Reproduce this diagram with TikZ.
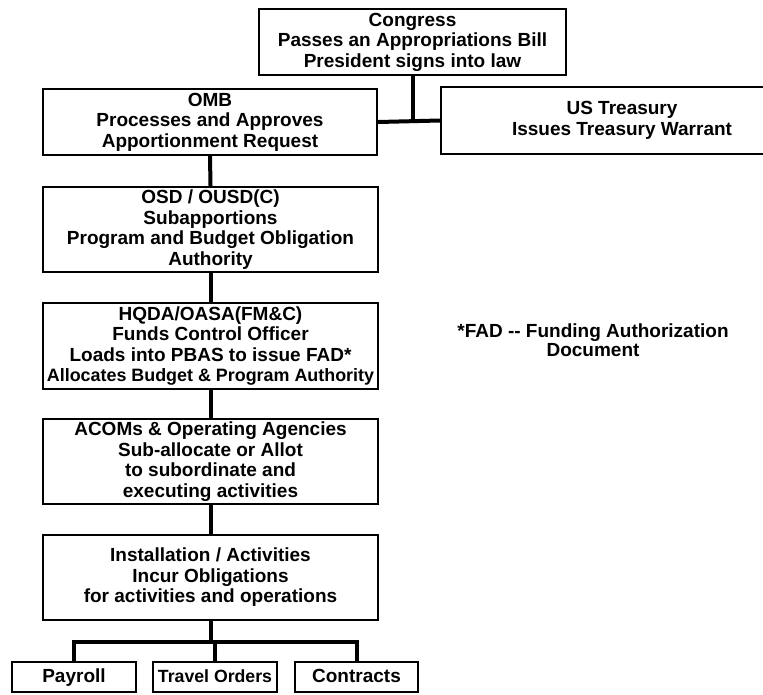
\documentclass[tikz,border=0pt]{standalone}
\usepackage{fontspec}
\setmainfont{Liberation Sans}

\begin{document}
\begin{tikzpicture}[x=1pt,y=-1pt,
	box/.style={draw,line width=2.4pt,align=center,inner sep=0pt,font=\bfseries\fontsize{19}{20.5}\selectfont},
	smallbox/.style={draw,line width=1.5pt,inner sep=0pt,minimum width=124pt,minimum height=30pt,text height=14pt,text depth=4pt,font=\bfseries\fontsize{19}{20.5}\selectfont},
	link/.style={line width=4pt,line join=miter}]
				 %\draw[color=gray,step=10pt, help lines,opacity=0.3] (0,0) grid (763,694); %help grids
				 \useasboundingbox (0,0) rectangle (763,694);
				 \node[box,minimum width=307pt,minimum height=66pt] (congress) at (412.5,42) {Congress\\Passes an Appropriations Bill\\President signs into law};
				 \node[box,minimum width=334pt,minimum height=66pt] (omb) at (210,122) {OMB\\Processes and Approves\\Apportionment Request};
				 \node[box,minimum width=362pt,minimum height=67pt] (treasury) at (622,120.5) {US Treasury\\Issues Treasury Warrant};
				 \node[box,minimum width=335pt,minimum height=85pt] (osd) at (210.5,229.5) {OSD / OUSD(C)\\Subapportions\\Program and Budget Obligation\\Authority};
				 \node[box,minimum width=335pt,minimum height=86pt] (hqda) at (210.5,346) {HQDA/OASA(FM\&C)\\Funds Control Officer\\Loads into PBAS to issue FAD*\\{\fontsize{17.9}{20.5}\selectfont Allocates Budget \& Program Authority}};
				 \node[box,minimum width=335pt,minimum height=85pt] (acom) at (210.5,461.5) {ACOMs \& Operating Agencies\\Sub-allocate or Allot\\to subordinate and\\executing activities};
				 \node[box,minimum width=335pt,minimum height=85pt] (inst) at (210.5,577.5) {Installation / Activities\\Incur Obligations\\for activities and operations};
				 \node[smallbox] (payroll) at (74,677) {Payroll};
				 \node[smallbox] (travel) at (215,677) {\fontsize{17.7}{20.5}\selectfont Travel Orders};
				 \node[smallbox,minimum width=123pt] (contracts) at (356.5,677) {Contracts};
				 \node[font=\bfseries\fontsize{19}{19}\selectfont,align=center,inner sep=0pt] (fadnote) at (593,340.5) {*FAD -{}- Funding Authorization\\Document};
				 \coordinate (junc) at (congress.south |- omb.east);
				 \coordinate (fork) at (214.5,642);
				 \draw[link] (congress.south) -- (junc);
				 \draw[link] (omb.east) -- (treasury.west);
				 \draw[link] (omb.south) -- (osd.north);
				 \draw[link] (osd.south) -- (hqda.north);
				 \draw[link] (hqda.south) -- (acom.north);
				 \draw[link] (acom.south) -- (inst.north);
				 \draw[link] (inst.south) -- (inst.south |- fork);
				 \draw[link] (payroll.north) -- (payroll.north |- fork) -- (contracts.north |- fork) -- (contracts.north);
				 \draw[link] (travel.north) -- (travel.north |- fork);
\end{tikzpicture}
\end{document}
